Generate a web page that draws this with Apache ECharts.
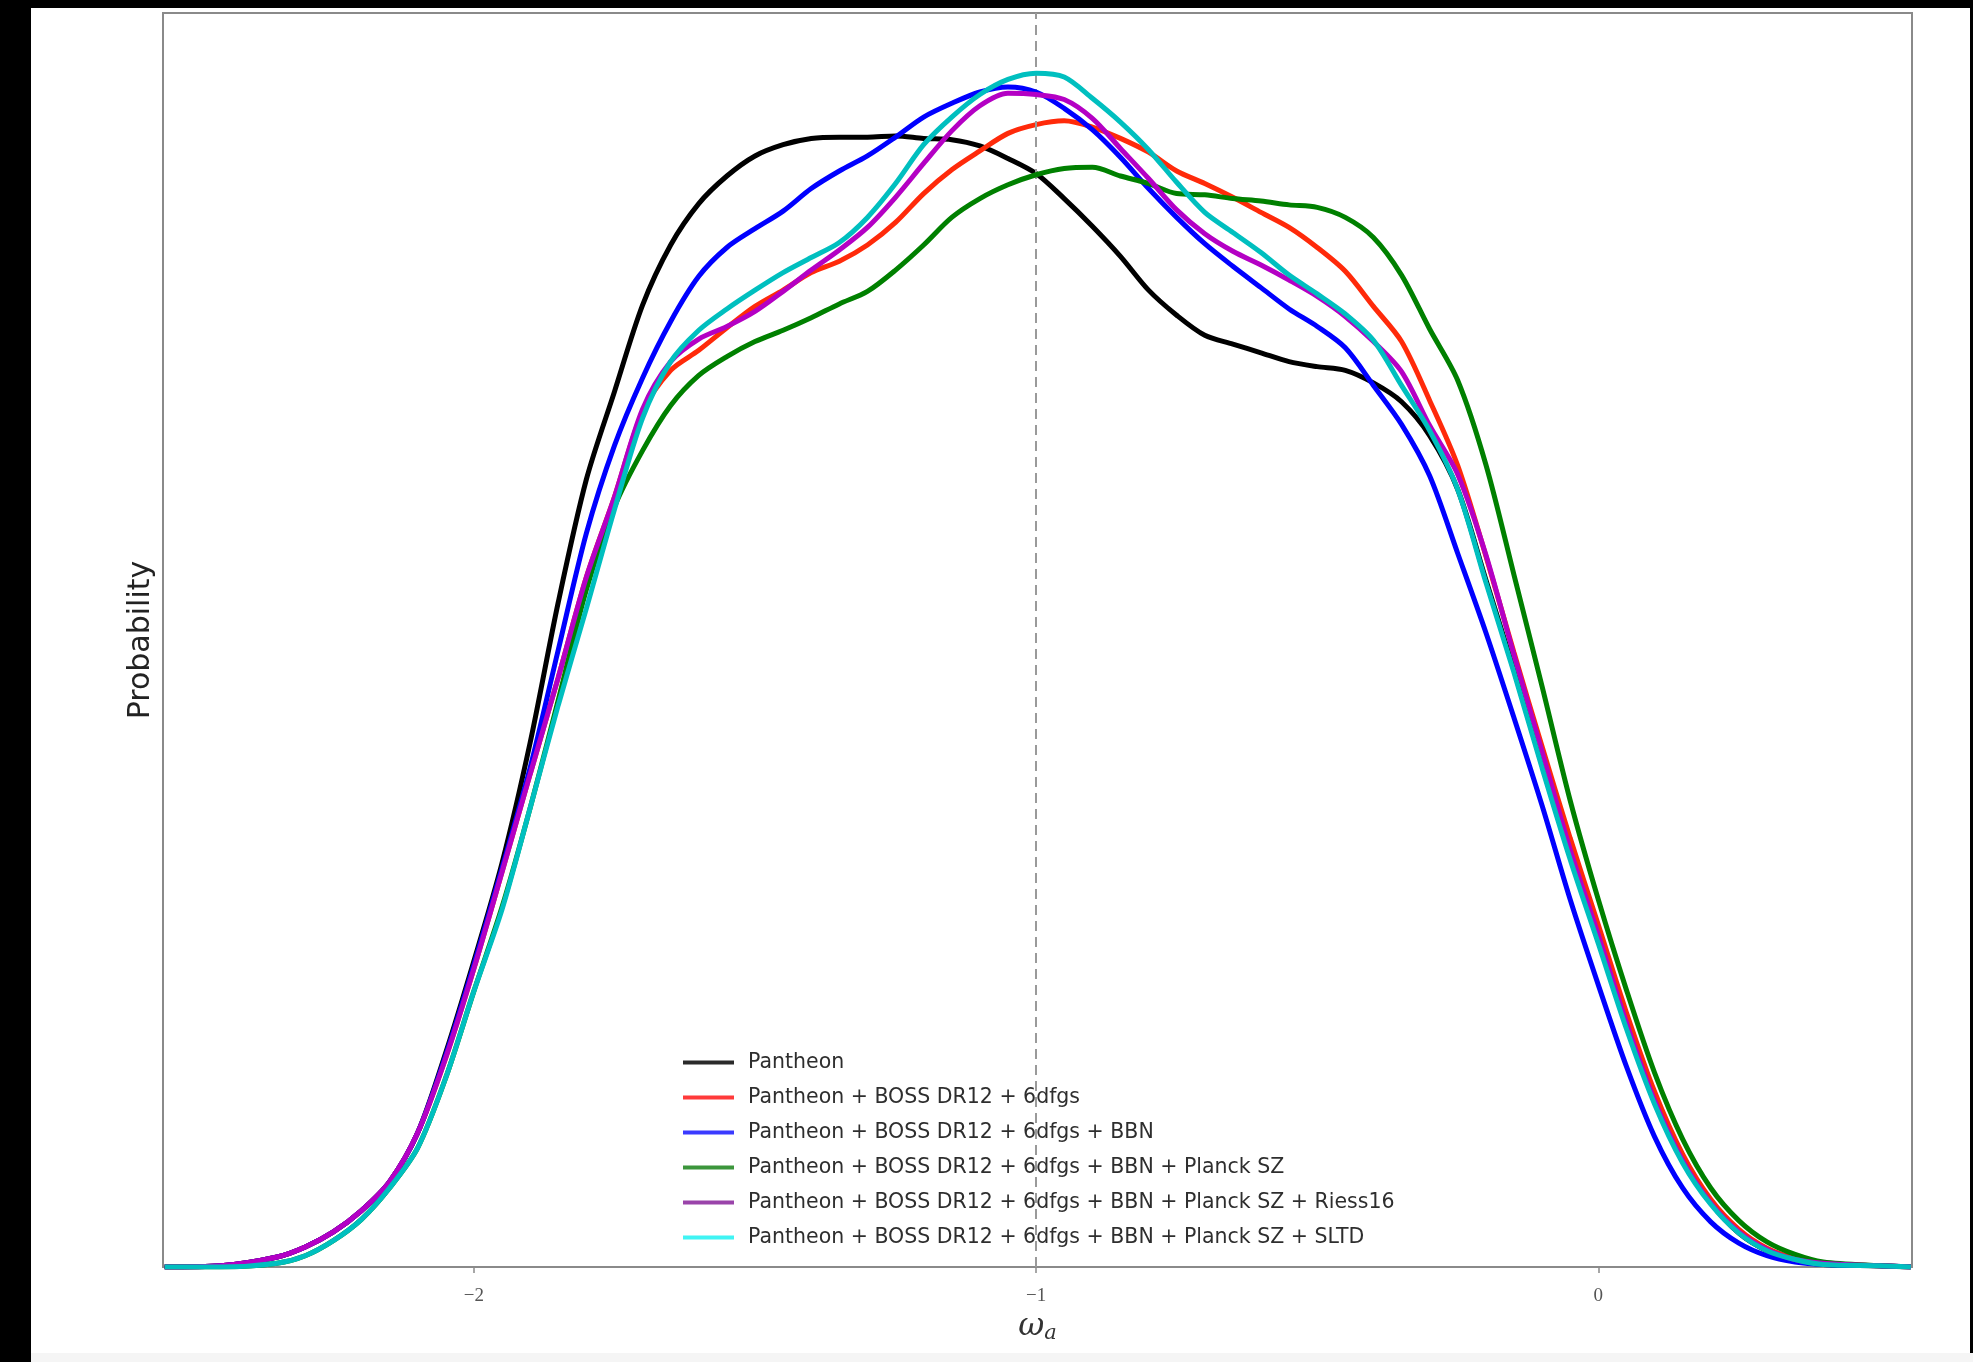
<!DOCTYPE html>
<html>
<head>
<meta charset="utf-8">
<script src="https://cdn.jsdelivr.net/npm/echarts@6/dist/echarts.min.js"></script>
<style>
  html, body { margin: 0; padding: 0; width: 1973px; height: 1362px; background: #000; overflow: hidden; }
  #paper { position: absolute; left: 31px; top: 8px; width: 1939px; height: 1345px; background: #fff; }
  #strip { position: absolute; left: 31px; top: 1353px; width: 1942px; height: 9px; background: #f5f5f5; }
  #chart { position: absolute; left: 0; top: 0; width: 1973px; height: 1362px; }
</style>
</head>
<body>
<div id="paper"></div>
<div id="strip"></div>
<div id="chart"></div>
<script>
// omega_a grid (x values)
const omegaA = [-2.55,-2.45,-2.35,-2.3,-2.25,-2.2,-2.15,-2.1,-2.05,-2.0,
  -1.95,-1.9,-1.85,-1.8,-1.75,-1.7,-1.65,-1.6,-1.55,-1.5,
  -1.45,-1.4,-1.35,-1.3,-1.25,-1.2,-1.15,-1.1,-1.05,-1.0,
  -0.95,-0.9,-0.85,-0.8,-0.75,-0.7,-0.65,-0.6,-0.55,-0.5,
  -0.45,-0.4,-0.35,-0.3,-0.25,-0.2,-0.15,-0.1,-0.05,0,
  0.05,0.1,0.15,0.2,0.25,0.3,0.35,0.4,0.5,0.556];

const pantheon = [0,0.001,0.008,0.016,0.028,0.045,0.068,0.107,0.171,0.244,
  0.322,0.418,0.530,0.628,0.698,0.767,0.815,0.848,0.870,0.886,
  0.895,0.900,0.901,0.901,0.902,0.900,0.899,0.894,0.884,0.872,
  0.852,0.830,0.806,0.779,0.759,0.743,0.736,0.729,0.722,0.718,
  0.715,0.705,0.690,0.663,0.620,0.548,0.476,0.400,0.327,0.261,
  0.193,0.133,0.085,0.051,0.027,0.013,0.006,0.002,0.001,0];

const boss = [0,0.001,0.008,0.016,0.028,0.045,0.068,0.107,0.167,0.238,
  0.315,0.393,0.470,0.550,0.614,0.682,0.715,0.731,0.749,0.766,
  0.779,0.793,0.802,0.815,0.833,0.856,0.875,0.890,0.904,0.911,
  0.914,0.909,0.900,0.889,0.874,0.864,0.853,0.841,0.829,0.813,
  0.794,0.766,0.738,0.691,0.639,0.567,0.490,0.415,0.342,0.273,
  0.203,0.140,0.090,0.054,0.030,0.015,0.007,0.003,0.001,0];

const bbn = [0,0.001,0.008,0.016,0.028,0.045,0.068,0.107,0.169,0.241,
  0.318,0.398,0.492,0.585,0.655,0.709,0.754,0.790,0.813,0.828,
  0.842,0.860,0.874,0.886,0.901,0.917,0.928,0.937,0.941,0.937,
  0.924,0.907,0.885,0.860,0.837,0.816,0.798,0.781,0.764,0.750,
  0.733,0.703,0.672,0.631,0.569,0.506,0.438,0.368,0.293,0.225,
  0.160,0.104,0.063,0.036,0.019,0.009,0.004,0.002,0.001,0];

const planck = [0,0,0.003,0.009,0.021,0.038,0.063,0.095,0.151,0.220,
  0.287,0.366,0.452,0.540,0.606,0.651,0.687,0.711,0.726,0.738,
  0.747,0.757,0.768,0.778,0.795,0.815,0.837,0.852,0.863,0.871,
  0.876,0.877,0.870,0.864,0.856,0.855,0.852,0.850,0.847,0.845,
  0.837,0.821,0.791,0.748,0.707,0.640,0.552,0.463,0.372,0.293,
  0.221,0.155,0.102,0.063,0.037,0.020,0.010,0.004,0.001,0];

const riess = [0,0.001,0.008,0.016,0.028,0.045,0.068,0.107,0.167,0.238,
  0.315,0.393,0.470,0.550,0.614,0.684,0.722,0.740,0.750,0.762,
  0.778,0.795,0.811,0.829,0.853,0.880,0.906,0.926,0.936,0.935,
  0.931,0.916,0.892,0.868,0.843,0.824,0.810,0.799,0.787,0.774,
  0.758,0.738,0.714,0.671,0.632,0.568,0.488,0.411,0.333,0.265,
  0.195,0.133,0.085,0.051,0.028,0.014,0.006,0.003,0.001,0];

const sltd = [0,0,0.003,0.009,0.021,0.038,0.063,0.095,0.151,0.220,
  0.285,0.366,0.448,0.525,0.604,0.677,0.722,0.747,0.764,0.779,
  0.793,0.805,0.817,0.837,0.864,0.895,0.917,0.935,0.947,0.952,
  0.949,0.932,0.913,0.891,0.865,0.841,0.825,0.809,0.791,0.776,
  0.760,0.739,0.703,0.667,0.620,0.546,0.474,0.398,0.325,0.258,
  0.190,0.130,0.083,0.050,0.027,0.013,0.006,0.002,0.001,0];

const seriesNames = [
  'Pantheon',
  'Pantheon + BOSS DR12 + 6dfgs',
  'Pantheon + BOSS DR12 + 6dfgs + BBN',
  'Pantheon + BOSS DR12 + 6dfgs + BBN + Planck SZ',
  'Pantheon + BOSS DR12 + 6dfgs + BBN + Planck SZ + Riess16',
  'Pantheon + BOSS DR12 + 6dfgs + BBN + Planck SZ + SLTD'
];
const seriesValues = [pantheon, boss, bbn, planck, riess, sltd];
const lineColors = ['#000000', '#ff2a0a', '#0000ff', '#008000', '#b400c4', '#00bfbf'];
const legendColors = ['#2a2a2a', '#ff3a3a', '#3a3aff', '#3c963c', '#9a44aa', '#40f4f4'];
const xTicks = [-2, -1, 0];
const refLine = -1;

const chart = echarts.init(document.getElementById('chart'), null, { renderer: 'canvas' });

const series = seriesNames.map((name, i) => ({
  name: name,
  type: 'line',
  data: omegaA.map((x, j) => [x, seriesValues[i][j]]),
  symbol: 'none',
  showSymbol: false,
  smooth: 0.3,
  lineStyle: { color: lineColors[i], width: 5 },
  itemStyle: { color: lineColors[i] },
  z: 3 + i,
  animation: false
}));

series.push({
  name: 'ref',
  type: 'line',
  data: [],
  markLine: {
    silent: true,
    symbol: 'none',
    label: { show: false },
    lineStyle: { color: '#9a9a9a', type: [10, 6], width: 2 },
    data: [{ xAxis: refLine }]
  },
  z: 2,
  animation: false
});

const option = {
  backgroundColor: 'transparent',
  animation: false,
  grid: {
    left: 163, top: 13, right: 61, bottom: 95,
    show: true, borderColor: '#8a8a8a', borderWidth: 2, backgroundColor: 'transparent'
  },
  legend: {
    orient: 'vertical',
    left: 678,
    top: 1047,
    itemWidth: 51,
    itemHeight: 4,
    itemGap: 14,
    icon: 'rect',
    textStyle: { fontFamily: 'DejaVu Sans', fontSize: 20.5, color: '#2e2e2e', lineHeight: 20, padding: [0, 0, 0, 9] },
    data: seriesNames.map((n, i) => ({ name: n, icon: 'rect', itemStyle: { color: legendColors[i] } })),
    selectedMode: false
  },
  xAxis: {
    type: 'value',
    min: -2.553,
    max: 0.558,
    axisLine: { show: true, onZero: false, lineStyle: { color: '#8a8a8a', width: 2 } },
    axisTick: { show: true, inside: false, length: 6, customValues: xTicks, lineStyle: { color: '#8a8a8a', width: 1.5 } },
    axisLabel: {
      customValues: xTicks,
      margin: 20,
      fontFamily: 'Liberation Serif',
      fontSize: 19,
      color: '#555',
      formatter: v => (v < 0 ? '\u2212' + Math.abs(v) : String(v))
    },
    splitLine: { show: false },
    name: '{w|\u03c9}{s|a}',
    nameLocation: 'middle',
    nameGap: 38,
    nameTextStyle: {
      rich: {
        w: { fontFamily: 'DejaVu Serif', fontStyle: 'italic', fontSize: 32, color: '#333' },
        s: { fontFamily: 'DejaVu Serif', fontStyle: 'italic', fontSize: 21, color: '#333', padding: [14, 0, 0, 0] }
      }
    }
  },
  yAxis: {
    type: 'value',
    min: 0,
    max: 1,
    axisLine: { show: false },
    axisTick: { show: false },
    axisLabel: { show: false },
    splitLine: { show: false },
    name: 'Probability',
    nameLocation: 'middle',
    nameGap: 7,
    nameTextStyle: { fontFamily: 'DejaVu Sans', fontSize: 30, color: '#222' }
  },
  series: series
};

chart.setOption(option);
</script>
</body>
</html>
